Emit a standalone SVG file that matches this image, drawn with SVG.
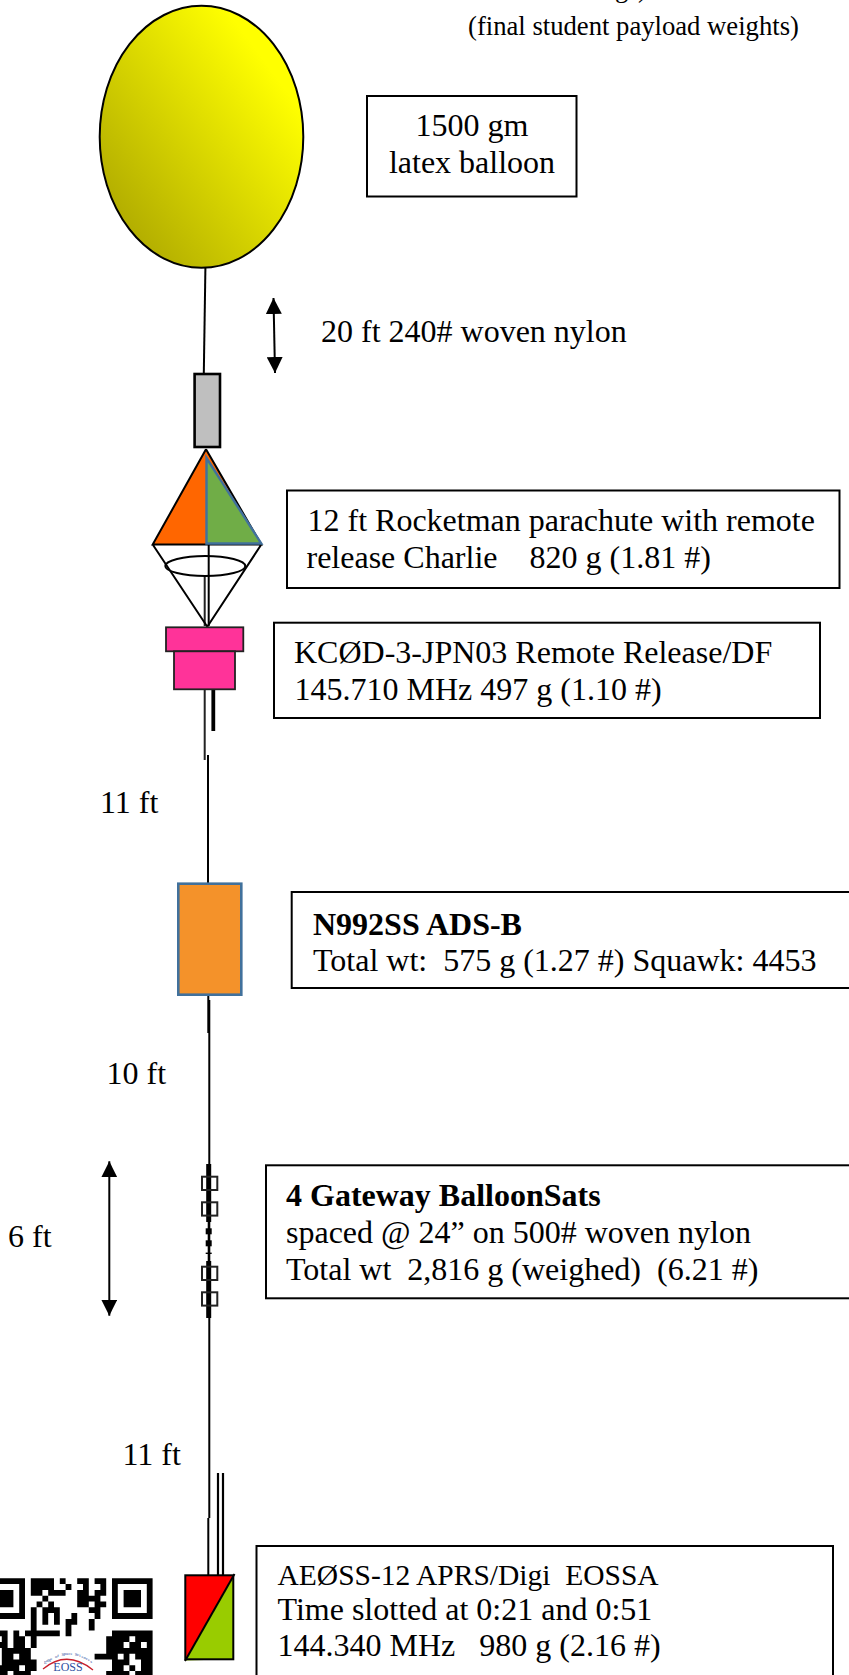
<svg xmlns="http://www.w3.org/2000/svg" width="849" height="1675" viewBox="0 0 849 1675">
<style>
text{font-family:"Liberation Serif","Times New Roman",serif;fill:#000;white-space:pre}
.t{font-size:32px}
.s{font-size:26.67px}
.b{font-weight:bold}
.box{fill:#fff;stroke:#000;stroke-width:2}
.l{stroke:#000;stroke-width:2;fill:none}
.tk{stroke:#000;stroke-width:5;fill:none}
.pk{fill:#ff3399;stroke:#222;stroke-width:1.8}
.sq{fill:none;stroke:#222;stroke-width:2}
</style>
<defs>
<linearGradient id="g" x1="0" y1="1" x2="1" y2="0.05"><stop offset="0.15" stop-color="#b3ae00"/><stop offset="0.82" stop-color="#ffff00"/></linearGradient>
<marker id="a" markerWidth="16" markerHeight="16" refX="16" refY="8" orient="auto-start-reverse" markerUnits="userSpaceOnUse"><path d="M0 0L16 8L0 16z"/></marker>
</defs>
<g id="connectors">
<path class="l" d="M205.4 268L203.8 374"/>
<path class="l" d="M273.5 298L275 373" marker-start="url(#a)" marker-end="url(#a)"/>
<path class="l" d="M109.3 1161.3V1315.7" marker-start="url(#a)" marker-end="url(#a)"/>
<path class="l" d="M208.7 544.5V626"/>
<path d="M204.7 576V626M204.7 689V760" stroke="#222" stroke-width="2" fill="none"/>
<path d="M213.3 689V731" stroke="#000" stroke-width="3.8" fill="none"/>
<path class="l" d="M208 755V884M208.3 995V1033M209.3 1000V1518M208.3 1518V1575"/>
<path d="M218 1473V1575M223 1473V1575" stroke="#000" stroke-width="2.2" fill="none"/>
<path class="tk" d="M208.7 1164V1222M208.7 1261V1318"/>
</g>
<g id="note"><text class="s" x="615 638" y="-3.5">g)</text><text class="s" x="468" y="34.8">(final student payload weights)</text></g>
<g id="balloon"><ellipse cx="201.5" cy="136.8" rx="101.8" ry="131" fill="url(#g)" stroke="#000" stroke-width="2"/></g>
<g id="balloon-label"><rect class="box" x="367" y="96" width="209.5" height="100.5"/><text class="t" x="472" y="135.7" text-anchor="middle">1500 gm</text><text class="t" x="472" y="172.8" text-anchor="middle">latex balloon</text></g>
<g id="line-label"><text class="t" x="321" y="342">20 ft 240# woven nylon</text></g>
<g id="link"><rect x="194.6" y="374" width="25.4" height="73" fill="#bfbfbf" stroke="#000" stroke-width="2.6"/></g>
<g id="parachute">
<path d="M206 449.3L152.7 544.5H206z" fill="#ff6600"/>
<path d="M206 449.3L261.3 544.5H206z" fill="#ff6600"/>
<path class="l" d="M206 449.3L152.7 544.5H261.3L206 449.3M152.7 544.5L207.3 626.7L261.3 544.5"/>
<path d="M206.5 458L261.3 543.5H206.5z" fill="#70ad47" stroke="#41719c" stroke-width="2.4"/>
<ellipse class="l" cx="205.3" cy="566" rx="40" ry="10"/>
</g>
<g id="parachute-label"><rect class="box" x="287" y="490.5" width="552.5" height="97.5"/><text class="t" x="307.5" y="530.5">12 ft Rocketman parachute with remote</text><text class="t" x="306.5" y="567.5">release Charlie    820 g (1.81 #)</text></g>
<g id="release"><rect class="pk" x="166" y="627.3" width="77.3" height="24"/><rect class="pk" x="174" y="651.3" width="61" height="38"/></g>
<g id="release-label"><rect class="box" x="274" y="622.7" width="546" height="95.3"/><text class="t" x="294" y="662.7">KCØD-3-JPN03 Remote Release/DF</text><text class="t" x="294.5" y="700">145.710 MHz 497 g (1.10 #)</text></g>
<g id="len-11a"><text class="t" x="100" y="813">11 ft</text></g>
<g id="adsb"><rect x="178.3" y="883.7" width="63" height="111" fill="#f4922a" stroke="#41719c" stroke-width="2.6"/></g>
<g id="adsb-label"><rect class="box" x="291.7" y="892" width="570" height="96"/><text class="t b" x="313" y="934.5">N992SS ADS-B</text><text class="t" x="313" y="971">Total wt:  575 g (1.27 #) Squawk: 4453</text></g>
<g id="len-10"><text class="t" x="106.5" y="1084">10 ft</text></g>
<g id="balloonsats">
<rect class="sq" x="202" y="1176.7" width="15.3" height="13.3"/><rect class="sq" x="202" y="1202.3" width="15.3" height="13.3"/>
<rect x="205.7" y="1228.3" width="6" height="6"/><rect x="205.7" y="1240.3" width="6" height="6"/><rect x="205.7" y="1252.6" width="6" height="1.4"/>
<path class="l" d="M208.7 1222V1261"/>
<rect class="sq" x="202" y="1266.7" width="15.3" height="13.3"/><rect class="sq" x="202" y="1292.3" width="15.3" height="13.3"/>
</g>
<g id="balloonsats-label"><rect class="box" x="266" y="1165.3" width="600" height="133"/><text class="t b" x="286" y="1206">4 Gateway BalloonSats</text><text class="t" x="286" y="1243">spaced @ 24” on 500# woven nylon</text><text class="t" x="286" y="1280">Total wt  2,816 g (weighed)  (6.21 #)</text></g>
<g id="len-6"><text class="t" x="8" y="1246.7">6 ft</text></g>
<g id="len-11b"><text class="t" x="122.5" y="1465">11 ft</text></g>
<g id="aprs"><rect x="185.3" y="1575.3" width="48" height="84" fill="#ff0000"/><path d="M185.3 1660.5L233.3 1575.3V1659.3z" fill="#99cc00"/><rect class="l" x="185.3" y="1575.3" width="48" height="84"/><path class="l" d="M185 1661L234.5 1574"/></g>
<g id="aprs-label"><rect class="box" x="256.5" y="1546" width="576.5" height="140"/><text class="t" x="277.5" y="1585" style="font-size:29.5px">AEØSS-12 APRS/Digi  EOSSA</text><text class="t" x="277.5" y="1620">Time slotted at 0:21 and 0:51</text><text class="t" x="277.5" y="1656">144.340 MHz   980 g (2.16 #)</text></g>
<g id="qr">
<path transform="translate(-15.6 1578.3) scale(5.8)" fill-rule="evenodd" d="M0 0h7v7h-7zM1 1v5h5v-5zM2 2h3v3h-3zM22 0h7v7h-7zM23 1v5h5v-5zM24 2h3v3h-3z
M8 0h4v1h-4zM13 0h1v1h-1zM16 0h2v1h-2zM19 0h2v1h-2z
M8 1h4v1h-4zM14 1h1v1h-1zM17 1h1v1h-1zM20 1h1v1h-1z
M8 2h2v1h-2zM11 2h3v1h-3zM16 2h2v1h-2zM19 2h2v1h-2z
M10 3h1v1h-1zM16 3h4v1h-4z
M9 4h1v1h-1zM11 4h1v1h-1zM16 4h2v1h-2zM19 4h2v1h-2z
M8 5h1v1h-1zM10 5h3v1h-3zM18 5h2v1h-2z
M8 6h1v1h-1zM10 6h1v1h-1zM12 6h1v1h-1zM15 6h1v1h-1zM19 6h1v1h-1z
M8 7h1v1h-1zM10 7h1v1h-1zM12 7h1v1h-1zM14 7h2v1h-2zM18 7h1v1h-1z
M8 8h1v1h-1zM14 8h1v1h-1zM18 8h1v1h-1z
M0 9h4v1h-4zM5 9h1v1h-1zM7 9h6v1h-6zM14 9h1v1h-1zM22 9h7v1h-7z
M0 10h2v1h-2zM3 10h1v1h-1zM5 10h2v1h-2zM8 10h1v1h-1zM21 10h4v1h-4zM26 10h3v1h-3z
M1 11h3v1h-3zM5 11h2v1h-2zM8 11h1v1h-1zM21 11h3v1h-3zM25 11h2v1h-2zM28 11h1v1h-1z
M0 12h2v1h-2zM3 12h5v1h-5zM21 12h8v1h-8z
M0 13h1v1h-1zM3 13h2v1h-2zM6 13h2v1h-2zM19 13h4v1h-4zM24 13h1v1h-1zM26 13h3v1h-3z
M3 14h3v1h-3zM6 14h3v1h-3zM22 14h3v1h-3zM27 14h2v1h-2z
M2 15h4v1h-4zM7 15h2v1h-2zM22 15h2v1h-2zM25 15h1v1h-1zM27 15h2v1h-2z
M1 16h3v1h-3zM5 16h3v1h-3zM21 16h4v1h-4zM26 16h3v1h-3z"/>
<path d="M43 1669Q67 1649 93 1670" fill="none" stroke="#c8202c" stroke-width="1.3"/>
<text style="font-size:4.6px;fill:#2f4f9f" x="44 46.2 48.4 50.6 52.8 55 57.2 59.4 61.6 63.8 66 68.2 70.4 72.6 74.8 77 79.2 81.4 83.6 85.8 88 90.2" y="1664 1662.4 1661 1659.7 1658.6 1657.6 1656.8 1656.2 1655.6 1655.3 1655.1 1655 1655.1 1655.3 1655.7 1656.3 1657 1657.8 1658.8 1660 1661.3 1662.7">Edge of Space Sciences</text>
<text x="68" y="1670.7" text-anchor="middle" style="font-size:12px;fill:#2f4f9f">EOSS</text>
</g>
</svg>
